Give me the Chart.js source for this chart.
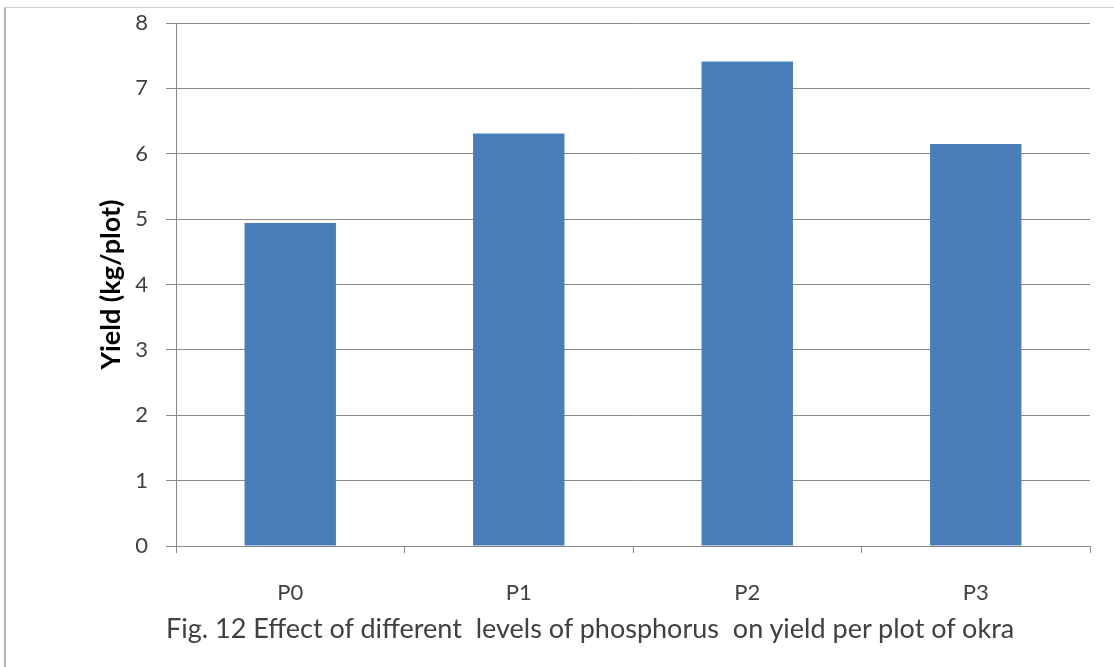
<!DOCTYPE html>
<html>
<head>
<meta charset="utf-8">
<title>Okra yield per plot</title>
<script src="https://cdn.jsdelivr.net/npm/chart.js@4/dist/chart.umd.min.js"></script>
<style>
  html, body { margin: 0; padding: 0; background: #ffffff; }
  .wrap { position: relative; width: 1114px; height: 667px; overflow: hidden; }
  .frame {
    position: absolute; left: 4px; top: 7px; right: -10px; bottom: -10px;
    border-left: 2px solid #b4b4b4; border-top: 1px solid #d0d0d0;
  }
  canvas { position: absolute; left: 0; top: 0; }
  .caption {
    position: absolute; left: 166px; top: 612px;
    font-family: Lato, "Open Sans", sans-serif; font-size: 27px; line-height: 32px; color: #404040;
    white-space: pre;
  }
</style>
</head>
<body>
<div class="wrap">
  <div class="frame"></div>
  <canvas id="yieldChart" width="1114" height="667"></canvas>
  <div class="caption">Fig. 12 Effect of different  levels of phosphorus  on yield per plot of okra</div>
</div>
<script>
// phosphorus levels and yield (kg/plot)
const levels = ['P0', 'P1', 'P2', 'P3'];
const yieldPerPlot = [4.94, 6.31, 7.41, 6.15];
const yTicks = [0, 1, 2, 3, 4, 5, 6, 7, 8];

const axisGray = '#8a8a8a';
const textGray = '#404040';

new Chart(document.getElementById('yieldChart'), {
    type: 'bar',
    data: {
        labels: levels,
        datasets: [{
            data: yieldPerPlot,
            backgroundColor: '#4a7ebb',
            borderWidth: 0,
            barPercentage: 0.4,
            categoryPercentage: 1.0
        }]
    },
    options: {
        responsive: false,
        animation: false,
        layout: {
            padding: { left: 0, top: 23, right: 24, bottom: 0 }
        },
        plugins: {
            legend: { display: false },
            tooltip: { enabled: false }
        },
        scales: {
            x: {
                grid: {
                    offset: true,
                    drawOnChartArea: false,
                    drawTicks: true,
                    tickLength: 7,
                    color: axisGray
                },
                border: { color: axisGray, width: 1 },
                ticks: {
                    color: textGray,
                    padding: 27,
                    font: { family: 'Lato', size: 22 }
                },
                afterFit: function (scale) {
                    scale.height = 121;
                    scale.paddingLeft = 0;
                    scale.paddingRight = 0;
                }
            },
            y: {
                min: 0,
                max: 8,
                afterBuildTicks: function (scale) {
                    scale.ticks = yTicks.map(v => ({ value: v }));
                },
                grid: {
                    color: axisGray,
                    tickLength: 10,
                    drawTicks: true
                },
                border: { color: axisGray, width: 1 },
                ticks: {
                    color: textGray,
                    padding: 18,
                    font: { family: 'Lato', size: 22 }
                },
                title: {
                    display: true,
                    text: 'Yield (kg/plot)',
                    color: '#000000',
                    font: { family: 'Lato', size: 27, weight: 'bold' },
                    padding: { top: 95, bottom: 0 }
                },
                afterFit: function (scale) {
                    // keep the plot edges where the layout padding puts them
                    scale.width = 176;
                    scale.paddingTop = 0;
                    scale.paddingBottom = 0;
                }
            }
        }
    }
});
</script>
</body>
</html>
